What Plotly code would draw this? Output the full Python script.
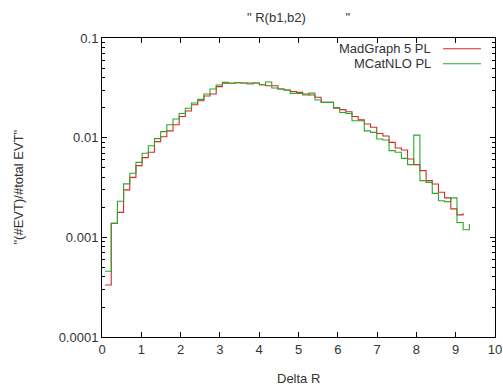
import plotly.graph_objects as go

# Bin centres of Delta R (histogram steps)
delta_r = [0.157, 0.314, 0.471, 0.628, 0.785, 0.942, 1.100, 1.257, 1.414, 1.571,
           1.728, 1.885, 2.042, 2.199, 2.356, 2.513, 2.670, 2.827, 2.985, 3.142,
           3.299, 3.456, 3.613, 3.770, 3.927, 4.084, 4.241, 4.398, 4.555, 4.712,
           4.869, 5.027, 5.184, 5.341, 5.498, 5.655, 5.812, 5.969, 6.126, 6.283,
           6.440, 6.597, 6.754, 6.912, 7.069, 7.226, 7.383, 7.540, 7.697, 7.854,
           8.011, 8.168, 8.325, 8.482, 8.639, 8.796, 8.954, 9.111, 9.268]

madgraph = [3.33e-4, 1.38e-3, 1.78e-3, 2.99e-3, 4.00e-3, 5.24e-3, 6.31e-3, 7.13e-3, 9.12e-3, 1.02e-2,
            1.17e-2, 1.35e-2, 1.63e-2, 1.85e-2, 2.14e-2, 2.35e-2, 2.62e-2, 2.74e-2, 3.25e-2, 3.51e-2,
            3.51e-2, 3.56e-2, 3.54e-2, 3.54e-2, 3.54e-2, 3.40e-2, 3.32e-2, 3.32e-2, 3.08e-2, 3.01e-2,
            2.91e-2, 2.85e-2, 2.74e-2, 2.68e-2, 2.54e-2, 2.26e-2, 2.26e-2, 1.97e-2, 1.91e-2, 1.82e-2,
            1.63e-2, 1.51e-2, 1.37e-2, 1.27e-2, 1.10e-2, 1.04e-2, 8.97e-3, 7.88e-3, 7.53e-3, 6.11e-3,
            5.36e-3, 4.67e-3, 3.71e-3, 3.43e-3, 2.83e-3, 2.49e-3, 1.93e-3, 1.68e-3]
madgraph_end = 1.74e-3

mcatnlo = [4.56e-4, 1.38e-3, 2.30e-3, 3.44e-3, 4.39e-3, 5.65e-3, 6.97e-3, 8.31e-3, 9.77e-3, 1.15e-2,
           1.35e-2, 1.54e-2, 1.75e-2, 1.97e-2, 2.23e-2, 2.42e-2, 2.74e-2, 3.08e-2, 3.38e-2, 3.59e-2,
           3.51e-2, 3.56e-2, 3.54e-2, 3.46e-2, 3.54e-2, 3.40e-2, 3.62e-2, 3.15e-2, 3.08e-2, 3.01e-2,
           2.78e-2, 2.78e-2, 2.68e-2, 2.80e-2, 2.39e-2, 2.26e-2, 2.26e-2, 2.01e-2, 1.79e-2, 1.75e-2,
           1.48e-2, 1.48e-2, 1.17e-2, 1.13e-2, 9.70e-3, 9.48e-3, 7.41e-3, 7.13e-3, 6.20e-3, 5.36e-3,
           1.06e-2, 3.71e-3, 3.56e-3, 2.76e-3, 2.33e-3, 2.28e-3, 2.49e-3, 1.41e-3, 1.19e-3]
mcatnlo_end = 1.36e-3

series_names = ["MadGraph 5 PL", "MCatNLO PL"]
series_colors = ["#d42a2a", "#2ca82c"]

x_tick_vals = [0, 1, 2, 3, 4, 5, 6, 7, 8, 9, 10]
y_tick_vals = [0.0001, 0.001, 0.01, 0.1]
y_tick_text = ["0.0001", "0.001", "0.01", "0.1"]

FONT = "Liberation Sans, Arial, sans-serif"
TXT = "#333333"

L, R, T, B = 102, 8, 37.5, 53
PW = 503 - L - R
PH = 390 - T - B


def step_path(values, end_value):
    n = len(values)
    c = delta_r[:n]
    edges = [c[0] - (c[1] - c[0]) / 2]
    for i in range(n - 1):
        edges.append((c[i] + c[i + 1]) / 2)
    edges.append(c[-1] + (c[-1] - c[-2]) / 2)
    return edges, list(values) + [end_value]


fig = go.Figure()
for vals, end, name, col in [(madgraph, madgraph_end, series_names[0], series_colors[0]),
                             (mcatnlo, mcatnlo_end, series_names[1], series_colors[1])]:
    xs, ys = step_path(vals, end)
    fig.add_trace(go.Scatter(x=xs, y=ys, mode="lines", name=name,
                             line=dict(color=col, width=1.1, shape="hv"),
                             showlegend=False, hoverinfo="skip"))

# Legend (gnuplot style: text right-aligned, sample line to the right)
annotations = []
shapes = []
for i, (name, col) in enumerate(zip(series_names, series_colors)):
    ypx = 48.3 + 15 * i
    ypaper = 1 - (ypx - T) / PH
    annotations.append(dict(text=name, xref="paper", yref="paper",
                            x=(433 - L) / PW, y=ypaper, xanchor="right", yanchor="middle",
                            showarrow=False, font=dict(family=FONT, size=13, color=TXT)))
    shapes.append(dict(type="line", xref="paper", yref="paper",
                       x0=(443 - L) / PW, x1=(481 - L) / PW,
                       y0=ypaper, y1=ypaper, line=dict(color=col, width=1.1)))

# Title
annotations.append(dict(text='" R(b1,b2)' + "\u00a0" * 11 + '"', xref="paper", yref="paper",
                        x=(245 - L) / PW, y=1, yshift=21, xanchor="left", yanchor="middle",
                        showarrow=False, font=dict(family=FONT, size=13, color=TXT)))
# Axis titles
annotations.append(dict(text="Delta R", xref="paper", yref="paper", x=0.5, y=0, yshift=-41,
                        xanchor="center", yanchor="middle", showarrow=False,
                        font=dict(family=FONT, size=13, color=TXT)))
annotations.append(dict(text='"(#EVT)/#total EVT"', xref="paper", yref="paper", x=0, xshift=-84,
                        y=0.5, xanchor="center", yanchor="middle", textangle=-90, showarrow=False,
                        font=dict(family=FONT, size=13, color=TXT)))

fig.update_layout(
    width=503, height=390,
    margin=dict(l=L, r=R, t=T, b=B, autoexpand=False),
    paper_bgcolor="white", plot_bgcolor="white",
    font=dict(family=FONT, size=13, color=TXT),
    annotations=annotations, shapes=shapes,
    showlegend=False,
)
fig.update_xaxes(range=[0, 10], tickvals=x_tick_vals, ticks="inside", ticklen=5,
                 tickcolor="black", showline=True, linecolor="black", linewidth=1,
                 mirror="allticks", showgrid=False, zeroline=False, automargin=False,
                 ticklabeloverflow="allow",
                 tickfont=dict(family=FONT, size=13, color=TXT))
fig.update_yaxes(type="log", range=[-4, -1], tickvals=y_tick_vals, ticktext=y_tick_text,
                 ticks="inside", ticklen=5, tickcolor="black", automargin=False,
                 minor=dict(tickmode="linear", dtick="D1", ticks="inside", ticklen=3,
                            tickcolor="black", showgrid=False),
                 showline=True, linecolor="black", linewidth=1,
                 mirror="allticks", showgrid=False, zeroline=False,
                 tickfont=dict(family=FONT, size=13, color=TXT))

fig.write_html("out.html")
